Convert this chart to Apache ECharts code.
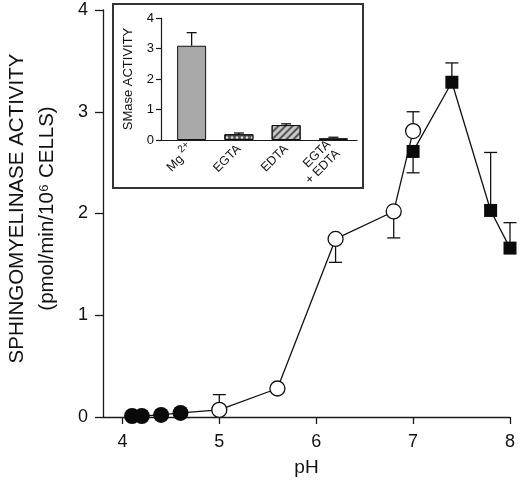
<!DOCTYPE html>
<html>
<head>
<meta charset="utf-8">
<script src="https://cdn.jsdelivr.net/npm/echarts@6/dist/echarts.min.js"></script>
<style>
html, body { margin: 0; padding: 0; background: #fff; }
#main { width: 520px; height: 485px; }
</style>
</head>
<body>
<div id="main"></div>
<script>
// main plot data (pH vs activity)
var phFilled = [4.1, 4.2, 4.4, 4.6];
var actFilled = [0.01, 0.01, 0.02, 0.04];

var phOpen = [5.0, 5.6, 6.2, 6.8, 7.0];
var actOpen = [0.07, 0.28, 1.75, 2.02, 2.81];
var errOpen = [0.22, null, 1.52, 1.76, 3.0];   // end of error bar

var phSquare = [7.0, 7.4, 7.8, 8.0];
var actSquare = [2.61, 3.29, 2.03, 1.66];
var errSquare = [2.40, 3.48, 2.60, 1.91];

var phTicks = [4, 5, 6, 7, 8];

// inset data
var insetCats = ['Mg{sup|2+}', 'EGTA', 'EDTA', 'EGTA\n+ EDTA'];
var insetVals = [3.09, 0.19, 0.49, 0.06];
var insetErr = [3.52, 0.23, 0.53, 0.09];

var myChart = echarts.init(document.getElementById('main'));

function pairs(xs, ys) {
    return xs.map(function (x, i) { return [x, ys[i]]; });
}
function errData(xs, ys, ends) {
    var out = [];
    xs.forEach(function (x, i) {
        if (ends[i] != null) out.push([x, ys[i], ends[i]]);
    });
    return out;
}
function errRender(cap) {
    return function (params, api) {
        var p0 = api.coord([api.value(0), api.value(1)]);
        var p1 = api.coord([api.value(0), api.value(2)]);
        var st = {stroke: '#111', lineWidth: 1.3};
        return {
            type: 'group',
            children: [
                {type: 'line', shape: {x1: p0[0], y1: p0[1], x2: p1[0], y2: p1[1]}, style: st},
                {type: 'line', shape: {x1: p1[0] - cap / 2, y1: p1[1], x2: p1[0] + cap / 2, y2: p1[1]}, style: st}
            ]
        };
    };
}

// bar looks (kept apart from the data)
var barLooks = [
    {color: '#a9a9a9'},
    {color: '#555', decal: {symbol: 'circle', symbolSize: 0.8, color: '#ddd', dashArrayX: [4, 1], dashArrayY: [3, 1]}},
    {color: '#c8c8c8', decal: {symbol: 'rect', symbolSize: 1, color: '#555', dashArrayX: [1, 0], dashArrayY: [2, 3], rotation: -Math.PI / 4}},
    {color: '#222'}
];

var axisCol = '#1a1a1a';
var font = 'Liberation Sans, Arial, sans-serif';

var option = {
    animation: false,
    backgroundColor: '#fff',
    grid: [
        {left: 103, right: 10, top: 10, bottom: 68, outerBoundsMode: 'none'},   // main
        {left: 113, top: 4, width: 250, height: 184, show: true, outerBoundsMode: 'none',   // inset frame
            backgroundColor: '#fff', borderColor: '#333', borderWidth: 2},
        {left: 161, top: 18, width: 196, height: 122, outerBoundsMode: 'none'},  // inset axes
        {left: 168, top: 18, width: 189, height: 122, outerBoundsMode: 'none'}   // inset bars
    ],
    xAxis: [
        {
            gridIndex: 0, type: 'value', min: 3.8, max: 8,
            name: 'pH', nameLocation: 'middle', nameGap: 41,
            nameTextStyle: {fontSize: 19, color: '#111', fontFamily: font},
            axisLine: {lineStyle: {color: axisCol, width: 1.3}},
            axisTick: {customValues: phTicks, length: 7, lineStyle: {color: axisCol, width: 1.3}},
            axisLabel: {customValues: phTicks, fontSize: 18, color: '#111', margin: 16, fontFamily: font},
            splitLine: {show: false}
        },
        {
            gridIndex: 2, type: 'value', min: 0, max: 1,
            axisLine: {lineStyle: {color: axisCol, width: 1.2}},
            axisTick: {show: false}, axisLabel: {show: false}, splitLine: {show: false}
        },
        {
            gridIndex: 3, type: 'category', data: insetCats,
            axisLine: {show: false}, axisTick: {show: false},
            axisLabel: {
                rotate: 45, fontSize: 12.5, color: '#111', margin: 7, fontFamily: font,
                lineHeight: 13,
                rich: {sup: {fontSize: 10, verticalAlign: 'bottom', padding: [0, 0, 7, 3], fontFamily: font, color: '#111'}}
            },
            splitLine: {show: false}
        }
    ],
    yAxis: [
        {
            gridIndex: 0, type: 'value', min: 0, max: 4, interval: 1,
            name: 'SPHINGOMYELINASE ACTIVITY\n(pmol/min/10\u2076 CELLS)',
            nameLocation: 'middle', nameGap: 41,
            nameTextStyle: {fontSize: 20.5, lineHeight: 30, color: '#111', fontFamily: font, padding: [0, 0, 0, 10]},
            axisLine: {lineStyle: {color: axisCol, width: 1.3}},
            axisTick: {length: 8, lineStyle: {color: axisCol, width: 1.3}},
            axisLabel: {fontSize: 18, color: '#111', margin: 15, fontFamily: font},
            splitLine: {show: false}
        },
        {
            gridIndex: 2, type: 'value', min: 0, max: 4, interval: 1,
            name: 'SMase ACTIVITY', nameLocation: 'middle', nameGap: 26,
            nameTextStyle: {fontSize: 13, color: '#111', fontFamily: font},
            axisLine: {lineStyle: {color: axisCol, width: 1.2}},
            axisTick: {length: 5, lineStyle: {color: axisCol, width: 1.2}},
            axisLabel: {fontSize: 13, color: '#111', margin: 7, fontFamily: font},
            splitLine: {show: false}
        },
        {
            gridIndex: 3, type: 'value', min: 0, max: 4, show: false
        }
    ],
    series: [
        {
            name: 'error-main', type: 'custom', xAxisIndex: 0, yAxisIndex: 0, z: 2,
            renderItem: errRender(13),
            encode: {x: 0, y: [1, 2]},
            data: errData(phOpen, actOpen, errOpen).concat(errData(phSquare, actSquare, errSquare))
        },
        {
            name: 'circles-line', type: 'line', xAxisIndex: 0, yAxisIndex: 0, z: 3,
            showSymbol: false,
            lineStyle: {color: '#111', width: 1.3},
            data: pairs(phFilled.concat(phOpen), actFilled.concat(actOpen))
        },
        {
            name: 'filled', type: 'scatter', xAxisIndex: 0, yAxisIndex: 0, z: 4,
            symbol: 'circle', symbolSize: 16,
            itemStyle: {color: '#0a0a0a', opacity: 1},
            data: pairs(phFilled, actFilled)
        },
        {
            name: 'open', type: 'scatter', xAxisIndex: 0, yAxisIndex: 0, z: 4,
            symbol: 'circle', symbolSize: 15,
            itemStyle: {color: '#fff', borderColor: '#111', borderWidth: 1.3, opacity: 1},
            data: pairs(phOpen, actOpen)
        },
        {
            name: 'squares', type: 'line', xAxisIndex: 0, yAxisIndex: 0, z: 4,
            symbol: 'rect', symbolSize: 13, showAllSymbol: true,
            itemStyle: {color: '#0a0a0a'},
            lineStyle: {color: '#111', width: 1.3},
            data: pairs(phSquare, actSquare)
        },
        {
            name: 'inset-bars', type: 'bar', xAxisIndex: 2, yAxisIndex: 2, z: 3,
            barWidth: 29,
            data: insetVals.map(function (v, i) {
                return {
                    value: v,
                    itemStyle: {
                        color: barLooks[i].color, decal: barLooks[i].decal,
                        borderColor: '#111', borderWidth: 1
                    }
                };
            })
        },
        {
            name: 'inset-err', type: 'custom', xAxisIndex: 2, yAxisIndex: 2, z: 2,
            renderItem: errRender(10),
            encode: {x: 0, y: [1, 2]},
            data: insetVals.map(function (v, i) { return [i, v, insetErr[i]]; })
        }
    ]
};
myChart.setOption(option);
</script>
</body>
</html>
